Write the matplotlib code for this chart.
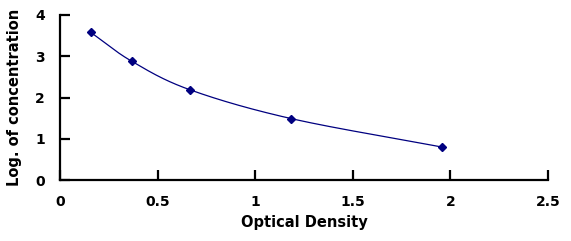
import numpy as np
import matplotlib
matplotlib.use("Agg")
import matplotlib.pyplot as plt

od = [0.157, 0.367, 0.664, 1.183, 1.955]
logc = [3.58, 2.88, 2.19, 1.49, 0.80]
xticks = [0, 0.5, 1, 1.5, 2, 2.5]
xtick_labels = ["0", "0.5", "1", "1.5", "2", "2.5"]
yticks = [0, 1, 2, 3, 4]
ytick_labels = ["0", "1", "2", "3", "4"]

plt.rcParams['font.family'] = ['DejaVu Sans']

def smooth(x, y, n=40):
    # Catmull-Rom style smoothing through the points
    x = np.asarray(x); y = np.asarray(y)
    px = np.concatenate([[2*x[0]-x[1]], x, [2*x[-1]-x[-2]]])
    py = np.concatenate([[2*y[0]-y[1]], y, [2*y[-1]-y[-2]]])
    xs, ys = [], []
    for i in range(1, len(px)-2):
        t = np.linspace(0, 1, n)
        for arr, out in ((px, xs), (py, ys)):
            p0, p1, p2, p3 = arr[i-1], arr[i], arr[i+1], arr[i+2]
            m1 = (p2 - p0) / 2 / 3
            m2 = (p3 - p1) / 2 / 3
            c = ((1-t)**3*p1 + 3*(1-t)**2*t*(p1+m1) + 3*(1-t)*t**2*(p2-m2) + t**3*p2)
            out.extend(c)
    return np.array(xs), np.array(ys)

fig = plt.figure(figsize=(5.71, 2.41), dpi=100)
ax = fig.add_axes([60/571, 61/241, 488/571, 165/241])
sx, sy = smooth(od, logc)
ax.plot(sx, sy, color='#000080', lw=0.9)
ax.plot(od, logc, linestyle='none', marker='D', markersize=4.5, color='#000080')

ax.set_xlim(0, 2.5)
ax.set_ylim(0, 4)
ax.set_xticks(xticks)
ax.set_xticklabels(xtick_labels)
ax.set_yticks(yticks)
ax.set_yticklabels(ytick_labels)
for s in ['top', 'right']:
    ax.spines[s].set_visible(False)
for s in ['left', 'bottom']:
    ax.spines[s].set_linewidth(1.6)
ax.tick_params(direction='in', length=7, width=1.6, labelsize=10)
ax.tick_params(axis='x', pad=11)
ax.tick_params(axis='y', pad=11)
for lab in ax.get_xticklabels() + ax.get_yticklabels():
    lab.set_fontweight('bold')
ax.set_xlabel('Optical Density', fontsize=10.5, fontweight='bold', labelpad=4)
ax.set_ylabel('Log. of concentration', fontsize=10.5, fontweight='bold', labelpad=9)
fig.savefig('out.png', dpi=100)
